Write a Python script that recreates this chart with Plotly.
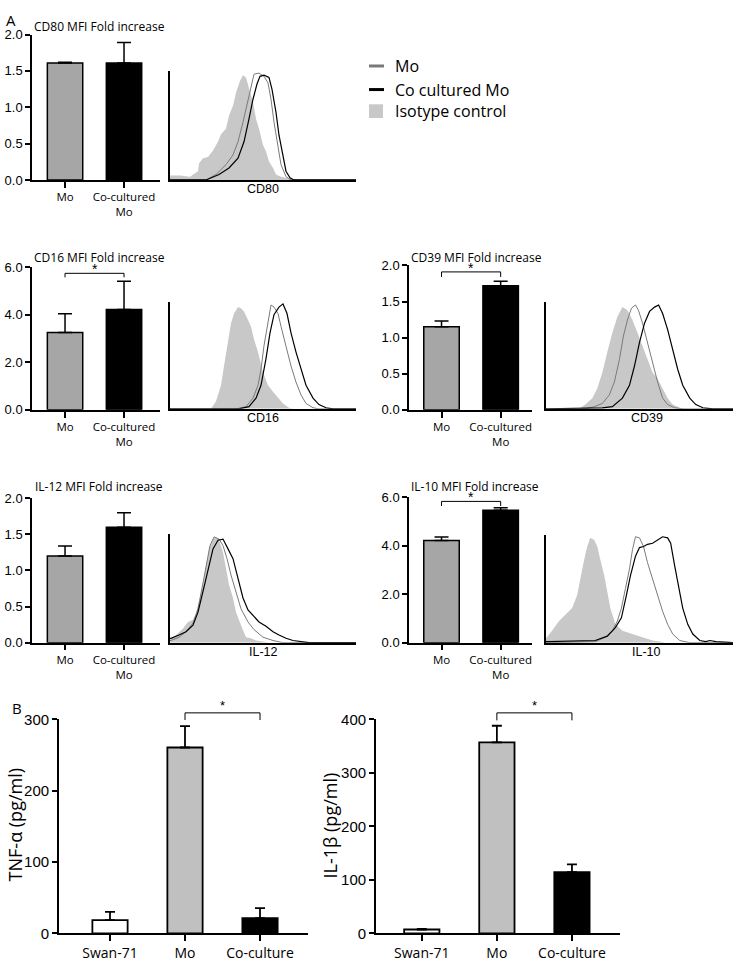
import plotly.graph_objects as go

W, H = 736, 968

# ---------------- Panel A bar data ----------------
a_cats = ["Mo", "Co-cultured<br>Mo"]
cd80_mean = [1.61, 1.61]
cd80_err = [0.01, 0.28]
cd16_mean = [3.26, 4.23]
cd16_err = [0.79, 1.19]
cd39_mean = [1.15, 1.72]
cd39_err = [0.08, 0.06]
il12_mean = [1.20, 1.60]
il12_err = [0.14, 0.20]
il10_mean = [4.22, 5.46]
il10_err = [0.14, 0.11]

# significance brackets (level, tick bottom)
cd16_sig = [5.75, 5.58]
cd39_sig = [1.91, 1.84]
il10_sig = [5.83, 5.64]

# ---------------- Panel B bar data ----------------
b_cats = ["Swan-71", "Mo", "Co-culture"]
tnf_mean = [18.8, 260.5, 21.6]
tnf_err = [11.5, 29.9, 13.8]
il1b_mean = [7.4, 357.0, 114.5]
il1b_err = [1.2, 31.0, 14.5]
tnf_sig = [309, 299]
il1b_sig = [412, 398]

# ---------------- Histogram data (channel, % of max) ----------------
cd80_iso_x = [0, 10, 20, 28, 29, 33, 38, 43, 48, 51, 56, 59, 63, 66, 70, 73, 76, 79, 83, 86, 89, 93, 96, 99, 103, 106, 111, 120, 130, 186]
cd80_iso_y = [4, 4, 3, 8, 15, 20, 21, 27, 35, 42, 47, 59, 68, 80, 91, 96, 94, 85, 71, 56, 47, 32, 26, 17, 11, 5, 3, 1, 0, 0]
cd80_mo_x = [0, 36, 46, 56, 63, 68, 73, 78, 81, 84, 89, 94, 98, 101, 104, 108, 111, 116, 121, 186]
cd80_mo_y = [0, 0, 5, 14, 23, 35, 53, 74, 86, 97, 98, 95, 89, 74, 53, 32, 14, 3, 0, 0]
cd80_co_x = [0, 36, 49, 59, 68, 74, 79, 83, 87, 90, 94, 99, 102, 106, 109, 113, 116, 120, 124, 186]
cd80_co_y = [0, 0, 5, 11, 20, 35, 56, 74, 88, 95, 96, 94, 83, 62, 41, 20, 8, 2, 0, 0]

cd16_iso_x = [0, 41, 46, 51, 54, 58, 61, 64, 68, 71, 74, 78, 81, 84, 88, 93, 98, 103, 108, 113, 119, 123, 186]
cd16_iso_y = [0, 0, 7, 22, 40, 62, 80, 89, 95, 94, 91, 83, 77, 65, 53, 34, 22, 16, 10, 5, 1, 0, 0]
cd16_mo_x = [0, 66, 76, 83, 88, 91, 94, 98, 101, 104, 108, 111, 116, 121, 126, 131, 136, 143, 149, 186]
cd16_mo_y = [0, 0, 2, 10, 22, 37, 59, 80, 97, 95, 89, 77, 59, 40, 25, 13, 5, 1, 0, 0]
cd16_co_x = [0, 69, 79, 86, 91, 96, 100, 104, 109, 113, 117, 121, 126, 131, 136, 143, 149, 156, 163, 186]
cd16_co_y = [0, 0, 2, 10, 22, 47, 71, 88, 95, 98, 89, 71, 53, 37, 22, 10, 4, 1, 0, 0]

cd39_iso_x = [0, 33, 39, 46, 51, 56, 61, 66, 71, 76, 81, 86, 91, 96, 101, 106, 111, 116, 121, 126, 133, 139, 186]
cd39_iso_y = [0, 0, 4, 10, 19, 34, 53, 71, 86, 95, 92, 83, 71, 59, 46, 34, 28, 19, 10, 4, 1, 0, 0]
cd39_mo_x = [0, 39, 48, 56, 63, 68, 73, 77, 81, 85, 89, 92, 96, 101, 106, 111, 116, 121, 128, 136, 186]
cd39_mo_y = [0, 0, 2, 5, 13, 25, 46, 68, 83, 94, 97, 92, 80, 62, 43, 25, 10, 4, 1, 0, 0]
cd39_co_x = [0, 56, 66, 76, 83, 88, 93, 98, 103, 108, 112, 116, 121, 126, 131, 136, 143, 149, 156, 166, 186]
cd39_co_y = [0, 1, 2, 10, 22, 40, 62, 80, 91, 95, 97, 89, 74, 56, 37, 22, 10, 4, 1, 0, 0]

il12_iso_x = [0, 1, 6, 13, 18, 23, 26, 29, 33, 36, 39, 43, 46, 49, 53, 56, 59, 63, 66, 71, 76, 81, 86, 93, 99, 186]
il12_iso_y = [3, 4, 7, 13, 19, 21, 27, 38, 53, 71, 86, 95, 97, 94, 83, 68, 53, 41, 28, 16, 5, 4, 2, 1, 0, 0]
il12_mo_x = [0, 1, 9, 16, 23, 28, 32, 36, 40, 44, 49, 53, 57, 61, 66, 71, 78, 84, 93, 103, 113, 186]
il12_mo_y = [2, 2, 5, 10, 18, 31, 50, 71, 89, 97, 95, 89, 77, 62, 47, 31, 19, 12, 5, 2, 0, 0]
il12_co_x = [0, 1, 9, 16, 23, 28, 33, 38, 43, 48, 53, 58, 63, 68, 73, 78, 83, 89, 96, 103, 109, 116, 123, 129, 139, 186]
il12_co_y = [4, 4, 7, 10, 16, 28, 47, 68, 86, 94, 95, 86, 77, 59, 41, 30, 25, 19, 15, 10, 7, 4, 2, 1, 0, 0]

il10_iso_x = [0, 1, 6, 13, 19, 26, 31, 34, 38, 41, 44, 48, 51, 54, 58, 61, 64, 69, 76, 86, 96, 106, 113, 119, 186]
il10_iso_y = [4, 5, 11, 20, 26, 32, 44, 59, 77, 89, 97, 95, 89, 77, 62, 47, 32, 17, 11, 8, 5, 2, 1, 0, 0]
il10_mo_x = [0, 49, 59, 66, 71, 75, 79, 83, 86, 89, 93, 97, 101, 106, 111, 116, 121, 126, 133, 143, 186]
il10_mo_y = [0, 1, 5, 11, 20, 32, 50, 68, 86, 98, 97, 89, 74, 59, 44, 29, 17, 8, 2, 0, 0]
il10_co_x = [0, 1, 49, 61, 69, 75, 80, 84, 89, 93, 97, 101, 106, 111, 116, 121, 124, 128, 132, 136, 141, 146, 153, 159, 163, 169, 186]
il10_co_y = [1, 1, 2, 6, 14, 23, 44, 62, 80, 88, 89, 91, 92, 95, 98, 97, 92, 71, 50, 32, 17, 8, 2, 1, 2, 1, 0]

legend_labels = ["Mo", "Co cultured Mo", "Isotype control"]

# ---------------- styling ----------------
ARIAL = "Liberation Sans, Arial, sans-serif"
MYRIAD = "Open Sans, sans-serif"
GRAY_A = "#a6a6a6"
GRAY_B = "#c0c0c0"
ISO = "#c8c8c8"
MO_LINE = "#7a7a7a"

fig = go.Figure()
layout = dict(width=W, height=H, margin=dict(l=0, r=0, t=0, b=0),
              paper_bgcolor="white", plot_bgcolor="rgba(0,0,0,0)",
              showlegend=False)
annotations = []
shapes = []


def dx(a, b):
    return [a / W, b / W]


def dy(top, bottom):
    return [1 - bottom / H, 1 - top / H]


def nm(i):
    return "" if i == 1 else str(i)


def add_bar_panel(i, xdom, ydom, cats, means, errs, colors, yrange, ytickvals,
                  tickfmt, xrange, bw, capw, tickfont, xtickfont, lw=1.5):
    xs = list(range(len(cats)))
    fig.add_trace(go.Bar(
        x=xs, y=means, width=bw,
        marker=dict(color=colors, line=dict(color="black", width=lw)),
        error_y=dict(type="data", array=errs, arrayminus=[0] * len(errs),
                     symmetric=False, color="black", thickness=lw, width=capw),
        xaxis="x" + nm(i), yaxis="y" + nm(i)))
    layout["xaxis" + nm(i)] = dict(
        domain=xdom, range=xrange, anchor="y" + nm(i), tickvals=xs, ticktext=cats,
        ticks="outside", ticklen=6, tickwidth=lw, tickcolor="black",
        showline=True, linecolor="black", linewidth=lw, showgrid=False,
        zeroline=False, tickfont=xtickfont, fixedrange=True)
    layout["yaxis" + nm(i)] = dict(
        domain=ydom, range=yrange, anchor="x" + nm(i), tickvals=ytickvals,
        tickformat=tickfmt, ticks="outside", ticklen=5, tickwidth=lw,
        tickcolor="black", showline=True, linecolor="black", linewidth=lw,
        showgrid=False, zeroline=False, tickfont=tickfont, fixedrange=True)


def add_hist_panel(i, xdom, ydom, iso, mo, co, label, label_pos):
    ax, ay = "x" + nm(i), "y" + nm(i)
    fig.add_trace(go.Scatter(x=iso[0], y=iso[1], mode="lines", fill="tozeroy",
                             fillcolor=ISO, line=dict(width=0, color=ISO),
                             xaxis=ax, yaxis=ay))
    fig.add_trace(go.Scatter(x=mo[0], y=mo[1], mode="lines",
                             line=dict(width=1, color=MO_LINE), xaxis=ax, yaxis=ay))
    fig.add_trace(go.Scatter(x=co[0], y=co[1], mode="lines",
                             line=dict(width=1.2, color="black"), xaxis=ax, yaxis=ay))
    common = dict(showline=True, linecolor="black", linewidth=1.5, ticks="",
                  showticklabels=False, showgrid=False, zeroline=False, fixedrange=True)
    layout["xaxis" + nm(i)] = dict(domain=xdom, range=[0, 186], anchor=ay, **common)
    layout["yaxis" + nm(i)] = dict(domain=ydom, range=[0, 100], anchor=ax, **common)
    annotations.append(dict(text=label, xref=ax + " domain", yref=ay + " domain",
                            x=label_pos, y=0, xanchor="center", yanchor="top",
                            yshift=0, showarrow=False,
                            font=dict(family=ARIAL, size=12.5, color="black")))


def add_bracket(i, x0, x1, sig):
    fig.add_trace(go.Scatter(x=[x0, x0, x1, x1], y=[sig[1], sig[0], sig[0], sig[1]],
                             mode="lines", line=dict(color="black", width=1),
                             xaxis="x" + nm(i), yaxis="y" + nm(i)))


def add_star(i, x, y, size, shift):
    annotations.append(dict(text="*", xref="x" + nm(i), yref="y" + nm(i), x=x, y=y,
                            xanchor="center", yanchor="bottom", yshift=shift,
                            showarrow=False,
                            font=dict(family=ARIAL, size=size, color="black")))


def add_title(text, xpx, ypx):
    annotations.append(dict(text=text, xref="paper", yref="paper", x=xpx / W,
                            y=1 - ypx / H, xanchor="left", yanchor="middle",
                            showarrow=False,
                            font=dict(family=MYRIAD, size=12, color="black")))


tf_a = dict(family=ARIAL, size=13, color="black")
xf_a = dict(family=MYRIAD, size=11.5, color="black")
cols_a = [GRAY_A, "black"]
xr_l = [-0.56, 1.61]
xr_r = [-0.55, 1.53]

# Row 1
add_bar_panel(1, dx(32, 160), dy(26, 174), a_cats, cd80_mean, cd80_err, cols_a,
              [0, 2], [0, 0.5, 1, 1.5, 2], ".1f", xr_l, 0.6, 7, tf_a, xf_a)
add_hist_panel(2, dx(170, 356), dy(63, 174), (cd80_iso_x, cd80_iso_y),
               (cd80_mo_x, cd80_mo_y), (cd80_co_x, cd80_co_y), "CD80", 0.5)
add_title("CD80 MFI Fold increase", 32, 18)

# Row 2
add_bar_panel(3, dx(32, 160), dy(263, 408), a_cats, cd16_mean, cd16_err, cols_a,
              [0, 6], [0, 2, 4, 6], ".1f", xr_l, 0.6, 7, tf_a, xf_a)
add_bracket(3, 0, 1, cd16_sig)
add_star(3, 0.5, cd16_sig[0], 14, -6)
add_hist_panel(4, dx(170, 356), dy(298, 407), (cd16_iso_x, cd16_iso_y),
               (cd16_mo_x, cd16_mo_y), (cd16_co_x, cd16_co_y), "CD16", 0.5)
add_title("CD16 MFI Fold increase", 32, 253)

add_bar_panel(5, dx(409, 532), dy(261, 408), a_cats, cd39_mean, cd39_err, cols_a,
              [0, 2], [0, 0.5, 1, 1.5, 2], ".1f", xr_r, 0.6, 7, tf_a, xf_a)
add_bracket(5, 0, 1, cd39_sig)
add_star(5, 0.5, cd39_sig[0], 14, -6)
add_hist_panel(6, dx(546, 733), dy(298, 407), (cd39_iso_x, cd39_iso_y),
               (cd39_mo_x, cd39_mo_y), (cd39_co_x, cd39_co_y), "CD39", 0.54)
add_title("CD39 MFI Fold increase", 409, 253)

# Row 3
add_bar_panel(7, dx(32, 160), dy(498, 645), a_cats, il12_mean, il12_err, cols_a,
              [0, 2], [0, 0.5, 1, 1.5, 2], ".1f", xr_l, 0.6, 7, tf_a, xf_a)
add_hist_panel(8, dx(170, 356), dy(534, 645), (il12_iso_x, il12_iso_y),
               (il12_mo_x, il12_mo_y), (il12_co_x, il12_co_y), "IL-12", 0.5)
add_title("IL-12 MFI Fold increase", 33, 486)

add_bar_panel(9, dx(409, 532), dy(497, 645), a_cats, il10_mean, il10_err, cols_a,
              [0, 6], [0, 2, 4, 6], ".1f", xr_r, 0.6, 7, tf_a, xf_a)
add_bracket(9, 0, 1, il10_sig)
add_star(9, 0.5, il10_sig[0], 14, -6)
add_hist_panel(10, dx(546, 733), dy(535, 645), (il10_iso_x, il10_iso_y),
               (il10_mo_x, il10_mo_y), (il10_co_x, il10_co_y), "IL-10", 0.54)
add_title("IL-10 MFI Fold increase", 409, 486)

# Panel B
tf_b = dict(family=ARIAL, size=15, color="black")
xf_b = dict(family=MYRIAD, size=14, color="black")
cols_b = ["white", GRAY_B, "black"]
b_top, b_bot = 723, 941
add_bar_panel(11, dx(59, 308), dy(b_top, b_bot), b_cats, tnf_mean, tnf_err, cols_b,
              [0, 300], [0, 100, 200, 300], "d", [-0.68, 2.64], 0.47, 5, tf_b, xf_b, lw=1.8)
add_bar_panel(12, dx(376, 620), dy(b_top, b_bot), b_cats, il1b_mean, il1b_err, cols_b,
              [0, 400], [0, 100, 200, 300, 400], "d", [-0.61, 2.64], 0.47, 5, tf_b, xf_b, lw=1.8)

# bracket overlay subplots for B (extend above the plotted range)
ext_top = 695
for i, src, ymax, xr, sig in [(13, 11, 300, [-0.68, 2.64], tnf_sig),
                              (14, 12, 400, [-0.61, 2.64], il1b_sig)]:
    scale = (b_bot - ext_top) / (b_bot - b_top)
    layout["xaxis" + nm(i)] = dict(domain=layout["xaxis" + nm(src)]["domain"], range=xr,
                                   anchor="y" + nm(i), visible=False, fixedrange=True)
    layout["yaxis" + nm(i)] = dict(domain=dy(ext_top, b_bot), range=[0, ymax * scale],
                                   anchor="x" + nm(i), visible=False, fixedrange=True)
    add_bracket(i, 1, 2, sig)
    add_star(i, 1.5, sig[0], 13, -2)

# y titles for B
for text, xpx in [("TNF-α (pg/ml)", 15), ("IL-1β (pg/ml)", 330)]:
    annotations.append(dict(text=text, xref="paper", yref="paper", x=xpx / W,
                            y=1 - 831 / H, xanchor="center", yanchor="middle",
                            textangle=-90, showarrow=False,
                            font=dict(family=MYRIAD, size=18, color="black")))

# panel letters
annotations.append(dict(text="A", xref="paper", yref="paper", x=11 / W, y=1 - 11 / H,
                        xanchor="center", yanchor="middle", showarrow=False,
                        font=dict(family=MYRIAD, size=15, color="black")))
annotations.append(dict(text="B", xref="paper", yref="paper", x=17 / W, y=1 - 712 / H,
                        xanchor="center", yanchor="middle", showarrow=False,
                        font=dict(family=MYRIAD, size=15, color="black")))

# custom legend
leg_y = [58, 82, 104]
shapes.append(dict(type="line", xref="paper", yref="paper", x0=369 / W, x1=384 / W,
                   y0=1 - leg_y[0] / H, y1=1 - leg_y[0] / H,
                   line=dict(color=MO_LINE, width=3)))
shapes.append(dict(type="line", xref="paper", yref="paper", x0=369 / W, x1=384 / W,
                   y0=1 - leg_y[1] / H, y1=1 - leg_y[1] / H,
                   line=dict(color="black", width=3)))
shapes.append(dict(type="rect", xref="paper", yref="paper", x0=369 / W, x1=383 / W,
                   y0=1 - (leg_y[2] + 7) / H, y1=1 - (leg_y[2] - 7) / H,
                   fillcolor=ISO, line=dict(width=0)))
for lab, ly in zip(legend_labels, leg_y):
    annotations.append(dict(text=lab, xref="paper", yref="paper", x=393 / W,
                            y=1 - ly / H, xanchor="left", yanchor="middle",
                            showarrow=False,
                            font=dict(family=MYRIAD, size=16, color="black")))

layout["annotations"] = annotations
layout["shapes"] = shapes
fig.update_layout(**layout)
fig.write_html("out.html", config={"displayModeBar": False},
               post_script="document.body.style.margin='0px';"
                           "document.body.style.overflow='hidden';")
